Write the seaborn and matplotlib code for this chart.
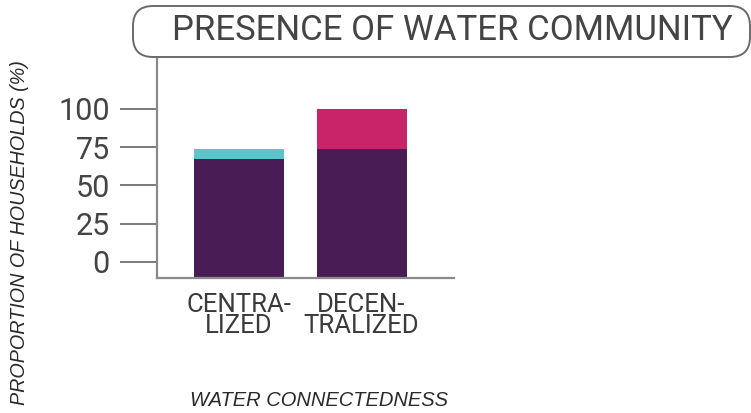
import matplotlib
matplotlib.use("Agg")
import matplotlib.pyplot as plt
import seaborn as sns
import pandas as pd
from matplotlib.patches import FancyBboxPatch

# Share of households (%) by type of water connectedness
categories = ["CENTRA-\nLIZED", "DECEN-\nTRALIZED"]
base_share = [67, 74]
extra_share = [7, 26]
extra_colors = ["#5bc6c9", "#c8246a"]
base_color = "#491c55"
y_ticks = [0, 25, 50, 75, 100]

title = "PRESENCE OF WATER COMMUNITY"
x_label = "WATER CONNECTEDNESS"
y_label = "PROPORTION OF HOUSEHOLDS (%)"

sns.set_theme(style="white")
plt.rcParams["font.family"] = ["Roboto", "DejaVu Sans"]

W, H = 751, 413
fig = plt.figure(figsize=(W / 100, H / 100), dpi=100)
ax = fig.add_axes([157 / W, 1 - 278 / H, (454 - 157) / W, (278 - 57) / H])

y_floor, y_top = -10.5, 134
totals = [b + e for b, e in zip(base_share, extra_share)]
df = pd.DataFrame({"cat": categories,
                   "total": [t - y_floor for t in totals],
                   "base": [b - y_floor for b in base_share]})

# Top segment (full stack), then the base segment over it
sns.barplot(data=df, x="cat", y="total", hue="cat", palette=extra_colors,
            bottom=y_floor, width=0.735, legend=False, ax=ax, saturation=1,
            linewidth=0)
sns.barplot(data=df, x="cat", y="base", color=base_color,
            bottom=y_floor, width=0.735, ax=ax, saturation=1, linewidth=0)

ax.set_ylim(y_floor, y_top)
ax.set_xlim(-0.67, 1.755)
ax.set_yticks(y_ticks)
ax.set_xlabel("")
ax.set_ylabel("")

for side in ("top", "right"):
    ax.spines[side].set_visible(False)
for side in ("left", "bottom"):
    ax.spines[side].set_color("#8a8a8a")
    ax.spines[side].set_linewidth(1.6)

ax.tick_params(axis="y", length=27, width=1.4, color="#7a7a7a",
               labelsize=22, labelcolor="#444444", pad=7, left=True)
ax.tick_params(axis="x", length=0, labelsize=18.5, labelcolor="#3a3a3a", pad=11)
for lbl in ax.get_xticklabels():
    lbl.set_linespacing(0.84)

# Rounded title frame
box = FancyBboxPatch((133, H - 57), 617, 51,
                     boxstyle="round,pad=0,rounding_size=20",
                     transform=None, facecolor="white", edgecolor="#6a6a6a",
                     linewidth=1.4)
fig.patches.append(box)
fig.text(452 / W, 1 - 31 / H, title, ha="center", va="center",
         fontsize=25, color="#444444")

fig.text(319 / W, 1 - 400 / H, x_label, ha="center", va="center",
         fontsize=14.5, style="italic", color="#2a2a2a",
         family=["Liberation Sans", "DejaVu Sans"])
fig.text(20 / W, 1 - 233 / H, y_label, ha="center", va="center",
         rotation=90, fontsize=14.2, style="italic", color="#2a2a2a",
         family=["Liberation Sans", "DejaVu Sans"])

fig.savefig("out.png", dpi=100)
